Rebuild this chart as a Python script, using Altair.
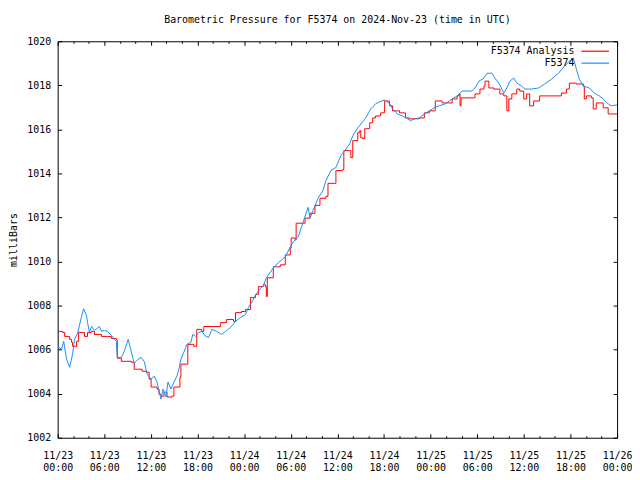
import altair as alt
import pandas as pd

TITLE = "Barometric Pressure for F5374 on 2024-Nov-23 (time in UTC)"
SERIES = ["F5374 Analysis", "F5374"]
COLORS = ["#ff0000", "#1e8cff"]
FONT = "DejaVu Sans Mono"

# hours since 2024-11-23 00:00 UTC
blue_hours = [0.00,0.51,0.77,1.15,1.53,1.92,2.17,2.56,3.07,3.33,
              3.71,3.84,4.09,4.35,4.73,5.37,5.63,6.01,6.39,6.91,
              7.29,7.55,7.67,8.19,8.57,9.08,9.46,9.85,10.23,10.74,
              11.13,11.51,12.02,12.41,12.79,13.04,13.30,13.56,13.94,14.20,
              14.58,14.96,15.35,15.60,15.86,16.24,16.63,17.14,17.39,17.78,
              18.16,18.54,19.06,19.44,19.82,20.46,21.10,21.61,22.25,22.89,
              23.53,24.17,24.55,24.94,25.58,26.09,26.47,26.86,27.75,28.39,
              29.29,29.93,30.31,30.95,31.59,31.97,32.23,32.48,32.87,33.51,
              34.15,34.53,35.17,35.81,36.45,36.96,37.60,37.98,38.62,39.26,
              39.65,40.29,40.92,41.44,42.08,42.72,43.10,43.74,44.38,45.02,
              45.40,45.91,46.55,47.19,47.83,48.47,49.11,49.88,50.77,51.41,
              52.05,53.33,53.71,54.23,54.87,55.25,55.89,56.27,56.78,57.17,
              57.42,57.81,58.19,58.70,59.09,59.73,60.11,61.01,61.90,62.67,
              63.56,64.46,65.23,65.86,66.38,66.76,67.14,67.65,68.42,69.06,
              69.70,70.21,70.85,71.23,72.00]
blue_mb = [1006.15,1006.01,1006.38,1005.56,1005.20,1005.79,1006.47,1006.74,1007.50,1007.86,
           1007.55,1007.23,1006.78,1007.05,1006.87,1007.05,1006.83,1006.87,1006.83,1006.65,
           1006.47,1006.38,1005.65,1005.65,1005.92,1006.47,1005.92,1005.38,1005.52,1005.65,
           1005.47,1004.89,1004.66,1004.80,1004.53,1004.12,1003.76,1004.21,1003.85,1004.53,
           1004.21,1004.53,1004.80,1005.11,1005.56,1005.88,1006.24,1006.33,1006.69,1006.60,
           1006.78,1006.83,1006.60,1006.56,1006.92,1006.83,1006.69,1006.83,1007.01,1007.28,
           1007.46,1007.59,1007.91,1008.13,1008.54,1008.77,1008.90,1009.26,1009.71,1009.94,
           1010.21,1010.66,1010.89,1011.11,1011.79,1012.19,1012.46,1011.97,1012.33,1012.87,
           1013.23,1013.68,1014.13,1014.27,1014.81,1015.04,1015.35,1015.71,1016.07,1016.34,
           1016.52,1016.93,1017.16,1017.25,1017.34,1017.16,1016.93,1016.70,1016.61,1016.48,
           1016.39,1016.48,1016.52,1016.70,1016.84,1016.98,1017.07,1017.16,1017.38,1017.52,
           1017.74,1017.74,1017.88,1018.19,1018.33,1018.55,1018.55,1018.33,1018.10,1017.83,
           1017.65,1017.88,1018.19,1018.33,1018.10,1017.97,1017.83,1017.83,1017.88,1018.06,
           1018.28,1018.55,1018.87,1019.10,1019.23,1018.73,1018.28,1017.97,1017.88,1017.65,
           1017.52,1017.38,1017.16,1017.07,1017.11]

red_hours = [0.00,0.64,0.90,1.53,1.79,1.92,2.43,2.69,3.07,3.45,
             3.84,4.35,4.73,5.63,6.39,6.91,7.55,7.67,8.19,8.82,
             9.46,9.85,10.23,10.87,11.38,11.77,12.02,12.41,12.79,13.04,
             13.30,13.68,14.07,14.71,14.96,15.60,15.73,15.86,16.63,16.75,
             17.52,17.90,18.54,18.80,19.82,20.97,21.74,22.64,22.89,23.66,
             24.17,24.81,25.45,25.83,26.47,26.73,26.86,26.98,27.75,28.65,
             29.29,29.93,30.05,30.57,30.69,31.59,31.84,32.48,33.12,33.76,
             34.53,34.79,35.68,35.81,36.70,36.83,37.60,37.73,37.98,38.62,
             38.88,39.01,39.26,39.52,40.16,40.54,40.92,41.56,42.08,42.72,
             43.10,44.00,44.63,44.76,45.27,46.04,46.55,47.19,47.83,48.60,
             49.49,50.39,50.77,51.41,51.66,51.79,51.92,53.33,53.71,54.35,
             54.87,55.00,55.50,56.14,56.78,56.91,57.42,57.81,58.06,58.45,
             59.09,59.47,59.98,60.36,60.75,61.26,62.03,63.18,63.95,64.84,
             65.48,65.86,66.76,67.65,67.78,68.04,68.68,68.93,69.32,70.21,
             70.85,72.00]
red_mb = [1006.83,1006.78,1006.60,1006.47,1006.33,1006.15,1006.38,1006.78,1006.78,1006.60,
          1006.78,1006.83,1006.69,1006.60,1006.60,1006.51,1006.47,1005.61,1005.47,1005.47,
          1005.43,1005.11,1005.11,1005.02,1004.98,1004.66,1004.30,1004.30,1004.21,1003.98,
          1003.89,1004.07,1003.85,1003.89,1004.30,1004.30,1004.75,1005.34,1005.34,1006.24,
          1006.15,1006.92,1006.83,1007.05,1007.05,1007.23,1007.37,1007.28,1007.68,1007.73,
          1007.82,1008.36,1008.50,1008.86,1008.95,1008.86,1008.41,1009.26,1009.76,1009.85,
          1010.30,1010.62,1011.07,1010.98,1011.74,1011.74,1011.97,1012.19,1012.55,1012.87,
          1012.96,1013.55,1013.55,1014.13,1014.18,1015.04,1015.04,1014.72,1015.49,1015.85,
          1015.94,1015.62,1015.58,1016.03,1016.30,1016.52,1016.61,1016.75,1017.29,1017.07,
          1016.84,1016.75,1016.75,1016.52,1016.48,1016.48,1016.52,1016.75,1016.84,1017.29,
          1017.20,1017.20,1017.38,1017.52,1017.61,1017.07,1017.43,1017.43,1017.61,1017.83,
          1017.97,1018.19,1017.88,1017.83,1017.83,1017.61,1017.52,1016.84,1017.38,1017.61,
          1017.83,1017.74,1017.38,1017.61,1017.07,1017.29,1017.52,1017.52,1017.52,1017.65,
          1017.83,1018.10,1018.06,1017.97,1017.38,1017.52,1017.43,1016.93,1017.20,1016.98,
          1016.70,1016.70]

major_ticks = list(range(0, 73, 6))
minor_ticks = [h for h in range(2, 72, 2) if h % 6 != 0]
y_ticks = list(range(1002, 1021, 2))

red_df = pd.DataFrame({"hours": red_hours, "mb": red_mb, "series": SERIES[0]})
blue_df = pd.DataFrame({"hours": blue_hours, "mb": blue_mb, "series": SERIES[1]})

xscale = alt.Scale(domain=[0, 72], nice=False, zero=False)
yscale = alt.Scale(domain=[1002, 1020], nice=False, zero=False)

label_expr = ("['11/' + (23 + floor(datum.value / 24)), "
              "(datum.value % 24 < 10 ? '0' : '') + (datum.value % 24) + ':00']")

color = alt.Color(
    "series:N",
    scale=alt.Scale(domain=SERIES, range=COLORS),
    legend=alt.Legend(
        orient="none", legendX=534, legendY=3, title=None,
        symbolType="M-2.3,0L2.3,0", symbolSize=144, symbolStrokeWidth=1.2,
        labelAlign="right", labelOffset=alt.ExprRef("-28"), labelFont=FONT, labelFontSize=10,
        labelColor="black", rowPadding=0, padding=0,
    ),
)

common_axis = dict(domain=False, grid=False, labelFlush=False, labelOverlap=False)

red = alt.Chart(red_df).mark_line(interpolate="step-after", strokeWidth=1, clip=True).encode(
    x=alt.X("hours:Q", scale=xscale,
            axis=alt.Axis(orient="bottom", values=major_ticks, labelExpr=label_expr,
                          tickSize=4, offset=-4, title=None, labelPadding=13,
                          labelLineHeight=12, labelBaseline="top", **common_axis)),
    y=alt.Y("mb:Q", scale=yscale,
            axis=alt.Axis(orient="left", values=y_ticks, format="d", tickSize=4, offset=-4,
                          title="milliBars", labelPadding=7, titlePadding=8, **common_axis)),
    color=color,
)

blue = alt.Chart(blue_df).mark_line(strokeWidth=1, clip=True).encode(
    x=alt.X("hours:Q", scale=xscale,
            axis=alt.Axis(orient="top", values=major_ticks, labels=False,
                          tickSize=4, offset=-4, title=None, **common_axis)),
    y=alt.Y("mb:Q", scale=yscale,
            axis=alt.Axis(orient="right", values=y_ticks, labels=False,
                          tickSize=4, offset=-4, title=None, **common_axis)),
    color=color,
)

minor_bottom = alt.Chart(blue_df).mark_line(opacity=0).encode(
    x=alt.X("hours:Q", scale=xscale,
            axis=alt.Axis(orient="bottom", values=minor_ticks, labels=False,
                          tickSize=2, offset=-2, title=None, **common_axis)),
    y=alt.Y("mb:Q", scale=yscale, axis=None),
)

minor_top = alt.Chart(blue_df).mark_line(opacity=0).encode(
    x=alt.X("hours:Q", scale=xscale,
            axis=alt.Axis(orient="top", values=minor_ticks, labels=False,
                          tickSize=2, offset=-2, title=None, **common_axis)),
    y=alt.Y("mb:Q", scale=yscale, axis=None),
)

chart = alt.layer(red, blue, minor_bottom, minor_top).resolve_axis(
    x="independent", y="independent"
).properties(
    width=563,
    height=399,
    title=alt.TitleParams(TITLE, font=FONT, fontSize=10, fontWeight="normal",
                          anchor="middle", offset=11, color="black"),
    autosize=alt.AutoSizeParams(type="none"),
    padding={"left": 50, "top": 32, "right": 15, "bottom": 33},
    background="white",
).configure_view(
    stroke="black", strokeWidth=1
).configure_axis(
    labelFont=FONT, labelFontSize=10, labelColor="black",
    titleFont=FONT, titleFontSize=10, titleFontWeight="normal", titleColor="black",
    tickColor="black", tickWidth=1,
)

chart.save("out.html", embed_options={"renderer": "svg", "actions": False})
